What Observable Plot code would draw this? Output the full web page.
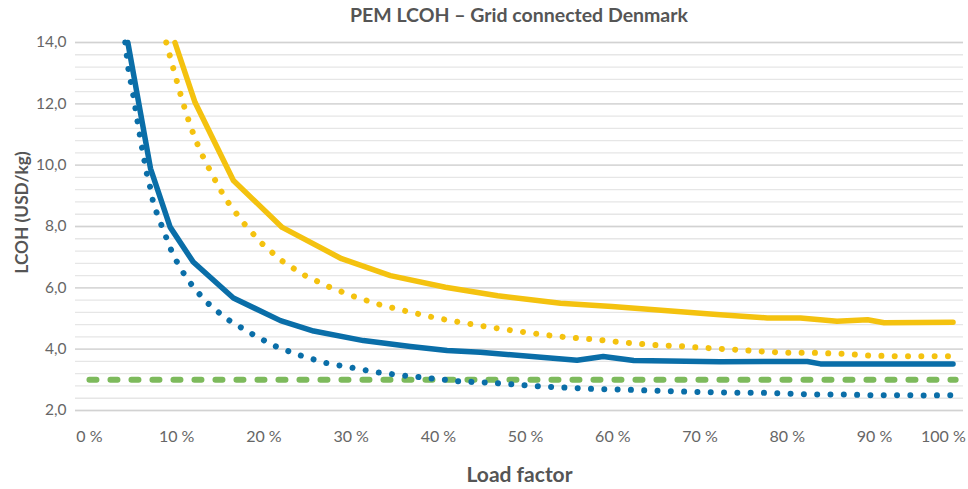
<!DOCTYPE html>
<html>
<head>
<meta charset="utf-8">
<script src="https://cdn.jsdelivr.net/npm/d3@7"></script>
<script src="https://cdn.jsdelivr.net/npm/@observablehq/plot@0.6"></script>
<style>
  html, body { margin: 0; padding: 0; background: #fff; }
  #wrap { width: 968px; height: 489px; position: relative; font-family: Lato, "Open Sans", sans-serif; }
  #title { margin-left: 75px; width: 888px; height: 30px; line-height: 29px; text-align: center;
           font-weight: bold; font-size: 19.5px; color: #555; }
  svg { display: block; }
</style>
</head>
<body>
<div id="wrap">
  <div id="title">PEM LCOH – Grid connected Denmark</div>
  <div id="chart"></div>
</div>
<script>
// ---- Data ----
const xTicks = [0, 10, 20, 30, 40, 50, 60, 70, 80, 90, 100];
const yTicks = [2, 4, 6, 8, 10, 12, 14];
const yMinorTicks = [2, 2.4, 2.8, 3.2, 3.6, 4, 4.4, 4.8, 5.2, 5.6, 6, 6.4, 6.8, 7.2, 7.6, 8, 8.4, 8.8, 9.2, 9.6, 10, 10.4, 10.8, 11.2, 11.6, 12, 12.4, 12.8, 13.2, 13.6, 14];
const xTitle = "Load factor";
const yTitle = "LCOH (USD/kg)";

const blueSolidX = [4.4, 7.0, 9.25, 11.9, 16.5, 21.9, 25.7, 31.4, 36.8, 41.0, 44.8, 55.9, 58.9, 62.4, 72.3, 82.3, 83.8, 99.0];
const blueSolidY = [14.0, 9.89, 7.98, 6.84, 5.67, 4.93, 4.59, 4.28, 4.09, 3.96, 3.90, 3.64, 3.76, 3.63, 3.59, 3.60, 3.52, 3.52];

const blueDotX = [4.1, 4.47, 5.05, 5.55, 6.08, 6.65, 7.04, 7.34, 8.49, 9.63, 11.2, 13.2, 15.6, 18.3, 21.0, 23.8, 26.9, 30.0, 33.1, 36.3, 39.4, 42.5, 45.6, 48.7, 51.9, 55.0, 58.2, 61.3, 64.5, 67.6, 70.7, 73.9, 77.0, 80.2, 83.3, 86.5, 89.6, 92.7, 95.9, 99.0];
const blueDotY = [14.0, 13.11, 12.24, 11.35, 10.48, 9.61, 9.20, 8.72, 7.87, 7.04, 6.28, 5.59, 5.01, 4.55, 4.13, 3.83, 3.56, 3.40, 3.24, 3.13, 3.04, 2.95, 2.91, 2.85, 2.78, 2.74, 2.70, 2.68, 2.65, 2.62, 2.60, 2.58, 2.58, 2.55, 2.52, 2.52, 2.50, 2.50, 2.49, 2.50];

const yellowSolidX = [9.8, 12.1, 16.5, 22.1, 28.9, 34.5, 40.8, 46.8, 54.0, 59.9, 72.3, 77.7, 81.5, 85.7, 89.2, 91.1, 99.0];
const yellowSolidY = [14.0, 12.05, 9.50, 7.97, 6.95, 6.40, 6.02, 5.74, 5.50, 5.39, 5.12, 5.02, 5.02, 4.91, 4.96, 4.86, 4.88];

const yellowDotX = [8.8, 9.75, 10.6, 11.55, 12.66, 14.1, 15.6, 17.5, 19.6, 21.9, 24.5, 27.4, 30.3, 33.3, 36.3, 39.4, 42.4, 45.6, 48.7, 51.8, 54.9, 58.1, 61.2, 64.4, 67.5, 70.6, 73.7, 76.9, 80.0, 83.1, 86.3, 89.5, 92.6, 95.7, 99.0];
const yellowDotY = [14.0, 13.01, 12.15, 11.29, 10.48, 9.67, 8.90, 8.17, 7.49, 6.91, 6.43, 6.04, 5.72, 5.45, 5.24, 5.04, 4.88, 4.73, 4.60, 4.48, 4.38, 4.31, 4.22, 4.14, 4.10, 4.04, 3.99, 3.93, 3.88, 3.88, 3.85, 3.79, 3.77, 3.77, 3.77];

const greenX = [0, 99.3];
const greenY = [3.0, 3.0];

const BLUE = "#0a6ea8";
const YELLOW = "#f4c20f";
const GREEN = "#7dba5c";

const pts = (xs, ys) => xs.map((x, i) => ({x, y: ys[i]}));

const chart = Plot.plot({
  width: 968,
  height: 459,
  marginLeft: 75,
  marginRight: 5,
  marginTop: 12,
  marginBottom: 79,
  style: { fontFamily: "Lato, 'Open Sans', sans-serif", background: "white", overflow: "visible" },
  x: { domain: [-1.6, 100.2] },
  y: { domain: [2, 14] },
  marks: [
    Plot.gridY(yMinorTicks, { stroke: "#e6e6e6", strokeOpacity: 1, strokeWidth: 1.3 }),
    Plot.gridY(yTicks, { stroke: "#d2d2d2", strokeOpacity: 1, strokeWidth: 1.3 }),
    Plot.axisY(yTicks, { tickSize: 0, tickPadding: 9, fontSize: 15.5, fill: "#666",
      tickFormat: d => d.toFixed(1).replace(".", ","), label: null }),
    Plot.axisX(xTicks.slice(0, -1), { tickSize: 0, tickPadding: 20, fontSize: 16, fill: "#666",
      tickFormat: d => d + " %", label: null }),
    Plot.axisX(xTicks.slice(-1), { tickSize: 0, tickPadding: 20, fontSize: 16, fill: "#666",
      tickFormat: d => d + " %", label: null, textAnchor: "end", dx: 4 }),
    Plot.text([yTitle], { frameAnchor: "left", textAnchor: "middle", dx: -53, dy: -14, rotate: -90,
      fontSize: 17.3, fontWeight: "bold", fill: "#555" }),
    Plot.text([xTitle], { frameAnchor: "bottom", textAnchor: "middle", lineAnchor: "middle", dy: 65,
      fontSize: 21, fontWeight: "bold", fill: "#555" }),
    Plot.line(pts(greenX, greenY), { x: "x", y: "y", stroke: GREEN, strokeWidth: 6,
      strokeDasharray: "7,14", strokeLinecap: "round" }),
    Plot.line(pts(yellowDotX, yellowDotY), { x: "x", y: "y", stroke: YELLOW, strokeWidth: 6,
      strokeDasharray: "0.01,13.3", strokeLinecap: "round" }),
    Plot.line(pts(blueDotX, blueDotY), { x: "x", y: "y", stroke: BLUE, strokeWidth: 6,
      strokeDasharray: "0.01,13.3", strokeLinecap: "round" }),
    Plot.line(pts(yellowSolidX, yellowSolidY), { x: "x", y: "y", stroke: YELLOW, strokeWidth: 5.5,
      strokeLinejoin: "round", strokeLinecap: "round" }),
    Plot.line(pts(blueSolidX, blueSolidY), { x: "x", y: "y", stroke: BLUE, strokeWidth: 5.5,
      strokeLinejoin: "round", strokeLinecap: "round" })
  ]
});
document.getElementById("chart").appendChild(chart);
</script>
</body>
</html>
